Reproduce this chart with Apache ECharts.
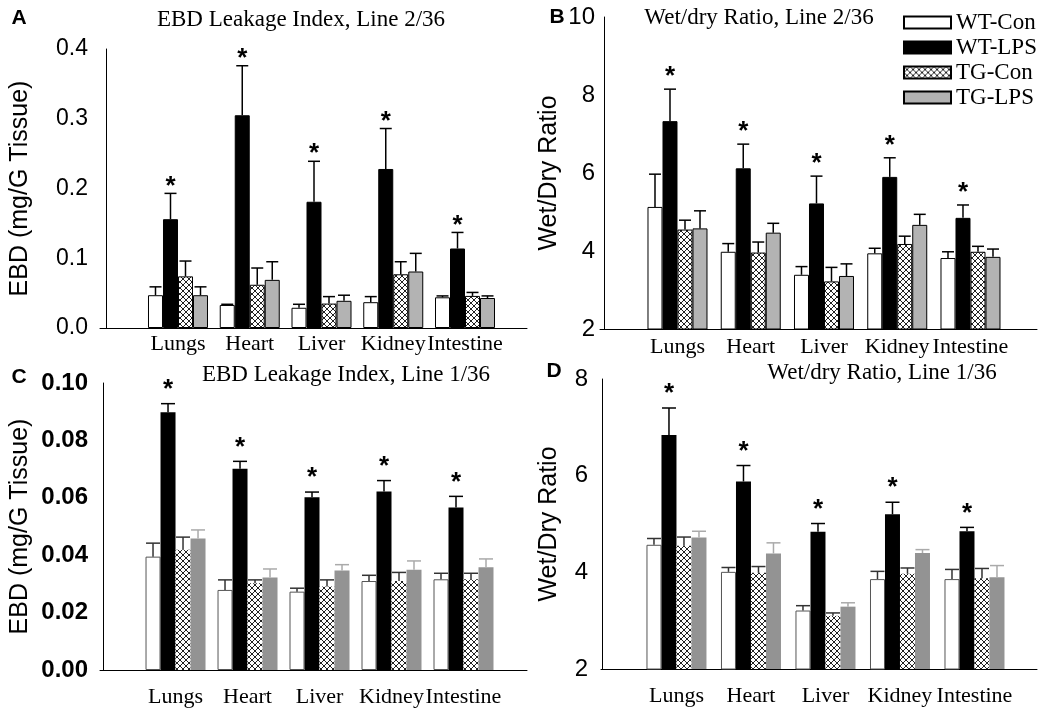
<!DOCTYPE html>
<html>
<head>
<meta charset="utf-8">
<script src="https://cdn.jsdelivr.net/npm/echarts@6/dist/echarts.min.js"></script>
<style>
  html, body { margin: 0; background: #fff; }
  #main { width: 1039px; height: 710px; }
</style>
</head>
<body>
<div id="main"></div>
<script>
const organs = ['Lungs', 'Heart', 'Liver', 'Kidney', 'Intestine'];
const groups = ['WT-Con', 'WT-LPS', 'TG-Con', 'TG-LPS'];
const pos = [1, 2, 3, 4, 5]; // slot of each organ on the x axis

// A: EBD leakage, line 2/36 (mean, SEM)
const aWtCon = [0.047, 0.033, 0.029, 0.037, 0.044];
const aWtConErr = [0.012, 0.001, 0.005, 0.008, 0.002];
const aWtLps = [0.156, 0.305, 0.181, 0.228, 0.114];
const aWtLpsErr = [0.037, 0.071, 0.058, 0.058, 0.023];
const aTgCon = [0.074, 0.062, 0.035, 0.077, 0.046];
const aTgConErr = [0.022, 0.024, 0.010, 0.018, 0.005];
const aTgLps = [0.047, 0.069, 0.039, 0.081, 0.043];
const aTgLpsErr = [0.012, 0.026, 0.008, 0.026, 0.003];

// B: wet/dry ratio, line 2/36
const bWtCon = [5.13, 3.98, 3.39, 3.94, 3.82];
const bWtConErr = [0.84, 0.21, 0.21, 0.13, 0.16];
const bWtLps = [7.33, 6.12, 5.22, 5.90, 4.85];
const bWtLpsErr = [0.82, 0.62, 0.70, 0.49, 0.33];
const bTgCon = [4.55, 3.96, 3.22, 4.18, 3.98];
const bTgConErr = [0.24, 0.27, 0.36, 0.20, 0.14];
const bTgLps = [4.58, 4.47, 3.36, 4.67, 3.85];
const bTgLpsErr = [0.45, 0.24, 0.31, 0.27, 0.20];

// C: EBD leakage, line 1/36
const cWtCon = [0.0395, 0.0279, 0.0273, 0.0310, 0.0316];
const cWtConErr = [0.0047, 0.0035, 0.0012, 0.0020, 0.0021];
const cWtLps = [0.0898, 0.0701, 0.0602, 0.0622, 0.0566];
const cWtLpsErr = [0.0030, 0.0026, 0.0018, 0.0038, 0.0039];
const cTgCon = [0.0419, 0.0302, 0.0291, 0.0310, 0.0316];
const cTgConErr = [0.0044, 0.0012, 0.0023, 0.0030, 0.0021];
const cTgLps = [0.0458, 0.0322, 0.0347, 0.0349, 0.0358];
const cTgLpsErr = [0.0030, 0.0030, 0.0020, 0.0031, 0.0029];

// D: wet/dry ratio, line 1/36
const dWtCon = [4.57, 4.01, 3.21, 3.86, 3.86];
const dWtConErr = [0.13, 0.09, 0.10, 0.16, 0.20];
const dWtLps = [6.84, 5.88, 4.84, 5.20, 4.85];
const dWtLpsErr = [0.56, 0.33, 0.17, 0.25, 0.08];
const dTgCon = [4.55, 3.99, 3.10, 3.97, 3.88];
const dTgConErr = [0.18, 0.13, 0.06, 0.12, 0.20];
const dTgLps = [4.72, 4.39, 3.29, 4.40, 3.90];
const dTgLpsErr = [0.13, 0.22, 0.08, 0.07, 0.24];

const SANS = 'Liberation Sans';
const SERIF = 'Liberation Serif';

function hatch(line) { // crosshatch fill
  const c = document.createElement('canvas');
  c.width = 6; c.height = 6;
  const ctx = c.getContext('2d');
  ctx.fillStyle = '#fff';
  ctx.fillRect(0, 0, 6, 6);
  ctx.strokeStyle = line;
  ctx.lineWidth = 1;
  ctx.beginPath();
  ctx.moveTo(0, 0); ctx.lineTo(6, 6);
  ctx.moveTo(6, 0); ctx.lineTo(0, 6);
  ctx.stroke();
  return { image: c, repeat: 'repeat' };
}

const topStyle = [
  { color: '#fff', borderColor: '#000', borderWidth: 1 },
  { color: '#000', borderColor: '#000', borderWidth: 1 },
  { color: hatch('#222'), borderColor: '#000', borderWidth: 1 },
  { color: '#b3b3b3', borderColor: '#000', borderWidth: 1 }
];
const botStyle = [
  { color: '#fff', borderColor: '#555', borderWidth: 1 },
  { color: '#000', borderWidth: 0 },
  { color: hatch('#222'), borderWidth: 0 },
  { color: '#939393', borderWidth: 0 }
];

const panels = [
  { grid: { left: 100, top: 49, width: 427, height: 279 }, xMin: -0.087, xMax: 5.864,
    yMin: 0, yMax: 0.4, step: 0.1, dec: 1, bold: false, labelSize: 23, labelGap: 12, xGap: 5,
    yName: 'EBD (mg/G Tissue)', nameGap: 67, styles: topStyle, errColor: ['#000', '#000', '#000', '#000'],
    cap: 12, starLift: 7,
    means: [aWtCon, aWtLps, aTgCon, aTgLps], errs: [aWtConErr, aWtLpsErr, aTgConErr, aTgLpsErr] },
  { grid: { left: 600, top: 17, width: 437, height: 312 }, xMin: -0.058, xMax: 5.908,
    yMin: 2, yMax: 10, step: 2, dec: 0, bold: false, labelSize: 24, labelGap: 5, xGap: 7,
    yName: 'Wet/Dry Ratio', nameGap: 38, styles: topStyle, errColor: ['#000', '#000', '#000', '#000'],
    cap: 12, starLift: 12,
    means: [bWtCon, bWtLps, bTgCon, bTgLps], errs: [bWtConErr, bWtLpsErr, bTgConErr, bTgLpsErr] },
  { grid: { left: 100, top: 383, width: 427, height: 287 }, xMin: -0.049, xMax: 5.882,
    yMin: 0, yMax: 0.1, step: 0.02, dec: 2, bold: true, labelSize: 24, labelGap: 12, xGap: 16,
    yName: 'EBD (mg/G Tissue)', nameGap: 67, styles: botStyle, errColor: ['#333', '#000', '#333', '#aaa'],
    cap: 14, starLift: 14,
    means: [cWtCon, cWtLps, cTgCon, cTgLps], errs: [cWtConErr, cWtLpsErr, cTgConErr, cTgLpsErr] },
  { grid: { left: 601, top: 379, width: 436, height: 290 }, xMin: -0.013, xMax: 5.839,
    yMin: 2, yMax: 8, step: 2, dec: 0, bold: false, labelSize: 24, labelGap: 13, xGap: 16,
    yName: 'Wet/Dry Ratio', nameGap: 39, styles: botStyle, errColor: ['#333', '#000', '#333', '#aaa'],
    cap: 14, starLift: 14,
    means: [dWtCon, dWtLps, dTgCon, dTgLps], errs: [dWtConErr, dWtLpsErr, dTgConErr, dTgLpsErr] }
];

const BW = 15; // bar width in px

function errRender(k, color, cap, star, lift) {
  return function (params, api) {
    const base = api.coord([api.value(0), api.value(1)]);
    const top = api.coord([api.value(0), api.value(1) + api.value(2)]);
    const x = base[0] + (k - 1.5) * BW;
    const kids = [
      { type: 'line', shape: { x1: x, y1: base[1], x2: x, y2: top[1] }, style: { stroke: color, lineWidth: 1.5 } },
      { type: 'line', shape: { x1: x - cap / 2, y1: top[1], x2: x + cap / 2, y2: top[1] }, style: { stroke: color, lineWidth: 1.5 } }
    ];
    if (star) {
      kids.push({ type: 'text', x: x, y: top[1] - lift,
        style: { text: '*', fill: '#000', font: 'bold 26px ' + SANS, align: 'center', verticalAlign: 'middle' } });
    }
    return { type: 'group', children: kids };
  };
}

const grids = [], xAxes = [], yAxes = [], series = [];
panels.forEach((p, i) => {
  grids.push(p.grid);
  xAxes.push({
    type: 'value', gridIndex: i, min: p.xMin, max: p.xMax,
    axisLine: { show: true, onZero: false, lineStyle: { color: '#000', width: 1 } },
    axisTick: { show: false },
    splitLine: { show: false },
    axisLabel: {
      customValues: pos,
      formatter: v => organs[Math.round(v) - 1],
      showMinLabel: true, showMaxLabel: true, hideOverlap: false,
      margin: p.xGap, fontFamily: SERIF, fontSize: 22, color: '#000'
    }
  });
  yAxes.push({
    type: 'value', gridIndex: i, min: p.yMin, max: p.yMax, interval: p.step,
    axisLine: { show: true, lineStyle: { color: '#000', width: 1 } },
    axisTick: { show: false },
    splitLine: { show: false },
    axisLabel: {
      formatter: v => v.toFixed(p.dec),
      margin: p.labelGap, fontFamily: SANS, fontSize: p.labelSize,
      fontWeight: p.bold ? 'bold' : 'normal', color: '#000'
    },
    name: p.yName, nameLocation: 'middle', nameGap: p.nameGap,
    nameTextStyle: { fontFamily: SANS, fontSize: 25, color: '#000' }
  });
  groups.forEach((g, k) => {
    series.push({
      name: g, type: 'bar', xAxisIndex: i, yAxisIndex: i,
      barWidth: BW, barGap: '0%',
      itemStyle: p.styles[k],
      silent: true,
      data: pos.map((x, j) => [x, p.means[k][j]])
    });
  });
  groups.forEach((g, k) => {
    series.push({
      name: 'err-' + i + '-' + k, type: 'custom', xAxisIndex: i, yAxisIndex: i,
      renderItem: errRender(k, p.errColor[k], p.cap, k === 1, p.starLift),
      silent: true, z: 3,
      data: pos.map((x, j) => [x, p.means[k][j], p.errs[k][j]])
    });
  });
});

const titleFont = '23px ' + SERIF;
const letterFont = 'bold 21px ' + SANS;

const chart = echarts.init(document.getElementById('main'), null, { renderer: 'canvas' });
chart.setOption({
  backgroundColor: '#fff',
  animation: false,
  grid: grids,
  xAxis: xAxes,
  yAxis: yAxes,
  legend: {
    data: groups, orient: 'vertical', left: 898, top: 6,
    icon: 'rect', itemWidth: 47, itemHeight: 12, itemGap: 2,
    selectedMode: false,
    textStyle: { fontFamily: SERIF, fontSize: 23, color: '#000' }
  },
  graphic: [
    { type: 'text', x: 301, y: 20, style: { text: 'EBD Leakage Index, Line 2/36', font: titleFont, fill: '#000', align: 'center', verticalAlign: 'middle' } },
    { type: 'text', x: 759, y: 18, style: { text: 'Wet/dry Ratio, Line 2/36', font: titleFont, fill: '#000', align: 'center', verticalAlign: 'middle' } },
    { type: 'text', x: 346, y: 375, style: { text: 'EBD Leakage Index, Line 1/36', font: titleFont, fill: '#000', align: 'center', verticalAlign: 'middle' } },
    { type: 'text', x: 882, y: 373, style: { text: 'Wet/dry Ratio, Line 1/36', font: titleFont, fill: '#000', align: 'center', verticalAlign: 'middle' } },
    { type: 'text', x: 19, y: 18, style: { text: 'A', font: letterFont, fill: '#000', align: 'center', verticalAlign: 'middle' } },
    { type: 'text', x: 557, y: 17, style: { text: 'B', font: letterFont, fill: '#000', align: 'center', verticalAlign: 'middle' } },
    { type: 'text', x: 19, y: 377, style: { text: 'C', font: letterFont, fill: '#000', align: 'center', verticalAlign: 'middle' } },
    { type: 'text', x: 554, y: 371, style: { text: 'D', font: letterFont, fill: '#000', align: 'center', verticalAlign: 'middle' } }
  ],
  series: series
});
</script>
</body>
</html>
